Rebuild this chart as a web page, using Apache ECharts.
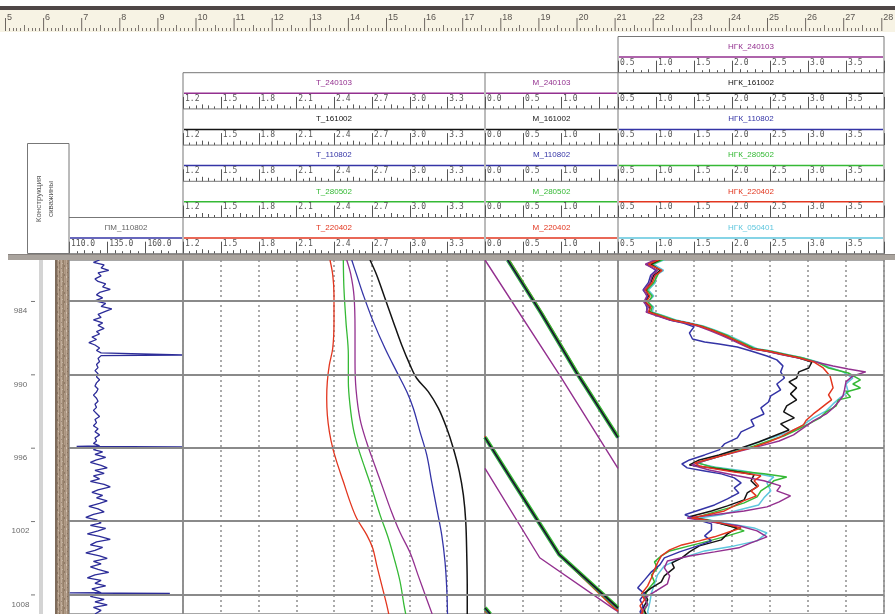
<!DOCTYPE html>
<html>
<head>
<meta charset="utf-8">
<script src="https://cdn.jsdelivr.net/npm/echarts@6/dist/echarts.min.js"></script>
<style>
  html, body { margin: 0; padding: 0; background: #ffffff; }
  #chart { width: 895px; height: 614px; }
</style>
</head>
<body>
<div id="chart"></div>
<script>
// ---------- data ----------
const depthTicks = [984, 990, 996, 1002, 1008];
const rulerMarks = [5, 6, 7, 8, 9, 10, 11, 12, 13, 14, 15, 16, 17, 18, 19, 20, 21, 22, 23, 24, 25, 26, 27, 28];
const runs = ['240103', '161002', '110802', '280502', '220402'];
const ngkRuns = ['240103', '161002', '110802', '280502', '220402', '050401'];
const pmScaleLabels = ['110.0', '135.0', '160.0'];
const tScaleLabels = ['1.2', '1.5', '1.8', '2.1', '2.4', '2.7', '3.0', '3.3'];
const mScaleLabels = ['0.0', '0.5', '1.0'];
const ngkScaleLabels = ['0.5', '1.0', '1.5', '2.0', '2.5', '3.0', '3.5'];
const casingInterval = [975, 1015];

// ПМ_110802: [depth, value]
const pm110802 = [
  [980.65,130],[980.85,126],[981.05,133],[981.3,131],[981.5,136],[981.7,129],[981.95,131],[982.2,127],[982.4,129],[982.6,134],
  [982.85,132],[983.05,137],[983.3,130],[983.5,128],[983.75,132],[984.0,127],[984.2,134],[984.45,131],[984.65,138],[984.9,133],
  [985.1,129],[985.35,131],[985.55,126],[985.8,132],[986.0,129],[986.25,133],[986.5,128],[986.7,130],[986.95,125],[987.15,128],
  [987.4,123],[987.6,127],[987.85,130],[988.05,128],[988.25,131],[988.38,130],[988.42,184],[988.47,131],[988.7,129],[988.95,130],
  [989.2,128],[989.45,129],[989.7,127],[989.95,129],[990.2,128],[990.45,130],[990.7,128],[990.95,127],[991.2,129],[991.45,128],
  [991.7,126],[991.95,128],[992.2,129],[992.45,127],[992.7,128],[992.95,126],[993.2,128],[993.45,130],[993.7,127],[993.95,128],
  [994.2,126],[994.45,129],[994.7,127],[994.95,130],[995.2,127],[995.45,128],[995.65,126],[995.85,130],[995.9,115],[995.94,184],
  [995.98,129],[996.15,126],[996.35,132],[996.55,127],[996.8,134],[997.0,128],[997.2,124],[997.45,131],[997.65,135],[997.85,127],
  [998.1,133],[998.3,126],[998.55,130],[998.75,124],[999.0,133],[999.2,137],[999.45,129],[999.65,125],[999.9,132],[1000.1,128],
  [1000.35,135],[1000.55,130],[1000.8,123],[1001.0,129],[1001.25,133],[1001.45,126],[1001.7,121],[1001.9,128],[1002.15,131],[1002.35,124],
  [1002.6,134],[1002.8,129],[1003.05,122],[1003.25,130],[1003.5,137],[1003.7,128],[1003.95,124],[1004.15,132],[1004.4,127],[1004.6,121],
  [1004.85,130],[1005.05,135],[1005.3,126],[1005.5,131],[1005.75,124],[1005.95,129],[1006.2,136],[1006.4,127],[1006.65,122],[1006.85,131],
  [1007.1,127],[1007.3,134],[1007.55,125],[1007.75,129],[1007.86,131],[1007.88,110.5],[1007.92,176],[1007.96,128],[1008.15,124],[1008.4,133],
  [1008.6,127],[1008.85,135],[1009.05,126],[1009.3,131],[1009.6,127]
];

// T curves: [depth, value]
const t240103 = [[980.65,2.501],[981.81,2.533],[983.59,2.559],[986.31,2.567],[989.04,2.567],[991.22,2.575],[993.67,2.607],[995.58,2.66],[997.49,2.726],[999.39,2.792],[1001.3,2.859],[1002.94,2.925],[1004.58,3.004],[1006.48,3.07],[1008.39,3.137],[1009.6,3.18]];
const t161002 = [[980.65,2.686],[981.87,2.739],[983.78,2.805],[985.69,2.871],[987.6,2.938],[989.23,3.004],[990.32,3.057],[991.41,3.149],[992.77,3.229],[994.41,3.296],[996.04,3.348],[997.95,3.396],[999.86,3.428],[1002.04,3.447],[1004.76,3.455],[1007.49,3.459],[1009.6,3.459]];
const t110802 = [[980.65,2.541],[981.87,2.58],[983.51,2.633],[985.69,2.712],[987.87,2.805],[989.78,2.898],[991.41,2.978],[992.77,3.03],[994.68,3.083],[996.59,3.137],[998.77,3.176],[1000.95,3.216],[1003.13,3.256],[1005.31,3.282],[1007.49,3.296],[1009.6,3.302]];
const t280502 = [[980.65,2.474],[982.96,2.479],[985.69,2.495],[988.41,2.514],[990.6,2.514],[992.5,2.527],[994.41,2.553],[996.04,2.593],[997.68,2.646],[999.31,2.7],[1001.49,2.766],[1003.4,2.832],[1005.31,2.885],[1006.95,2.925],[1008.85,2.956],[1009.6,2.97]];
const t220402 = [[980.65,2.368],[981.87,2.39],[983.51,2.4],[985.69,2.4],[987.87,2.39],[989.23,2.363],[990.6,2.347],[991.95,2.342],[993.32,2.347],[994.68,2.363],[996.04,2.39],[997.14,2.421],[998.77,2.474],[1000.41,2.527],[1001.77,2.58],[1003.13,2.66],[1004.22,2.708],[1005.58,2.739],[1007.22,2.779],[1008.85,2.819],[1009.6,2.835]];

// M curves, wrapped display: each inner list is one pass across the track
const m240103 = [
  [[980.65,0.0],[990.05,0.98],[997.7,1.75]],
  [[997.7,0.0],[1005.0,0.72],[1009.1,1.675],[1009.4,1.75]]
];
const m161002 = [
  [[980.65,0.30],[985.0,0.74],[989.9,1.21],[995.15,1.75]],
  [[995.15,0.0],[998.8,0.37],[1004.76,0.98],[1009.1,1.75]],
  [[1009.1,0.0],[1009.6,0.07]]
];
const m110802 = [
  [[980.65,0.295],[985.0,0.735],[989.9,1.205],[995.2,1.75]],
  [[995.2,0.0],[998.8,0.365],[1004.76,0.975],[1009.15,1.75]],
  [[1009.15,0.0],[1009.6,0.06]]
];
const m280502 = [
  [[980.65,0.30],[985.0,0.74],[989.9,1.21],[995.15,1.75]],
  [[995.15,0.0],[998.8,0.37],[1004.76,0.98],[1009.1,1.75]],
  [[1009.1,0.0],[1009.6,0.07]]
];
const m220402 = [
  [[980.65,0.318],[985.0,0.755],[989.9,1.225],[995.05,1.75]],
  [[995.05,0.0],[998.8,0.375],[1004.76,0.975],[1009.1,1.70],[1009.35,1.75]],
  [[1009.35,0.0],[1009.6,0.04]]
];

// НГК curves: [depth, value]
const ngk240103 = [[980.6,1.0],[981.0,0.86],[981.5,1.02],[981.9,0.95],[982.5,0.92],[983.1,0.84],[983.6,0.88],[984.1,0.84],[984.5,0.9],[984.9,0.87],[985.2,1.0],[985.55,1.18],[985.8,1.38],[986.05,1.55],[986.4,1.7],[986.8,1.86],[987.2,2.0],[987.6,2.14],[987.9,2.24],[988.1,2.44],[988.4,2.66],[988.65,2.86],[989.0,3.1],
  [989.31,3.33],[989.56,3.53],[989.8,3.76],[990.13,3.59],[990.62,3.5],[991.28,3.48],[991.77,3.46],[992.26,3.4],[992.75,3.33],[993.24,3.24],[993.81,3.07],[994.38,2.94],[994.95,2.81],[995.45,2.62],[995.85,2.38],[996.26,2.12],[996.67,1.86],[997.08,1.64],[997.41,1.47],[997.82,1.7],[998.3,2.07],[998.71,2.42],[999.12,2.64],[999.53,2.59],[999.94,2.77],[1000.43,2.62],[1000.84,2.46],[1001.17,2.16],[1001.49,1.77],[1001.74,1.41],[1002.07,1.73],[1002.39,2.09],[1002.8,2.33],[1003.29,2.46],[1003.78,2.25],[1004.19,2.09],[1004.52,1.77],[1004.85,1.44],[1005.26,1.15],[1005.83,1.11],[1006.48,1.18],[1007.14,1.15],[1007.79,0.98],[1008.28,0.85],[1008.85,0.89],[1009.42,0.81],[1009.6,0.83]];
const ngk161002 = [[980.6,1.06],[981.0,0.93],[981.5,1.06],[981.9,0.97],[982.5,0.93],[983.1,0.87],[983.6,0.9],[984.1,0.86],[984.5,0.92],[984.9,0.91],[985.2,1.03],[985.55,1.2],[985.8,1.41],[986.05,1.57],[986.4,1.73],[986.8,1.89],[987.2,2.03],[987.6,2.16],[987.9,2.27],[988.1,2.45],[988.4,2.68],[988.65,2.87],[989.0,3.05],
  [989.48,3.01],[989.8,2.88],[990.3,2.85],[990.62,2.75],[991.11,2.85],[991.6,2.77],[992.09,2.85],[992.58,2.72],[993.07,2.68],[993.56,2.82],[994.05,2.64],[994.55,2.75],[995.04,2.55],[995.53,2.35],[996.02,2.12],[996.59,1.83],[997.0,1.57],[997.41,1.44],[997.65,1.73],[997.98,2.09],[998.22,2.29],[998.71,2.25],[999.2,2.33],[999.7,2.2],[1000.27,2.16],[1000.76,1.94],[1001.17,1.73],[1001.65,1.44],[1002.07,1.77],[1002.56,2.07],[1003.05,1.94],[1003.54,1.86],[1004.03,1.57],[1004.52,1.44],[1005.01,1.34],[1005.42,1.21],[1005.83,1.24],[1006.48,1.11],[1006.97,1.07],[1007.46,0.94],[1007.87,0.85],[1008.44,0.89],[1009.1,0.83],[1009.6,0.87]];
const ngk110802 = [[980.6,1.02],[981.0,0.88],[981.5,1.0],[981.9,0.93],[982.5,0.9],[983.1,0.83],[983.6,0.89],[984.1,0.85],[984.5,0.88],[984.9,0.88],[985.2,1.02],[985.55,1.18],[985.8,1.36],
  [986.12,1.5],[986.62,1.44],[987.11,1.48],[987.35,1.64],[987.52,1.83],[987.76,2.07],[988.09,2.25],[988.5,2.46],[988.82,2.59],[989.31,2.67],[989.8,2.64],[990.3,2.69],[990.79,2.59],[991.28,2.64],[991.77,2.51],[992.26,2.48],[992.75,2.38],[993.24,2.42],[993.73,2.25],[994.22,2.29],[994.71,2.12],[995.2,2.07],[995.69,1.9],[996.18,1.83],[996.59,1.64],[997.0,1.44],[997.33,1.34],[997.65,1.41],[997.9,1.64],[998.14,1.86],[998.47,2.03],[998.88,2.12],[999.29,2.03],[999.7,2.09],[1000.19,1.94],[1000.68,1.77],[1001.09,1.57],[1001.49,1.38],[1001.9,1.55],[1002.23,1.73],[1002.72,1.73],[1003.21,1.64],[1003.62,1.73],[1004.11,1.51],[1004.52,1.31],[1005.01,1.11],[1005.58,1.05],[1006.15,0.94],[1006.81,0.85],[1007.46,0.76],[1007.95,0.85],[1008.44,0.79],[1008.93,0.83],[1009.42,0.79],[1009.6,0.81]];
const ngk280502 = [[980.6,1.1],[981.0,0.95],[981.5,1.05],[981.9,1.02],[982.5,0.97],[983.1,0.88],[983.6,0.95],[984.1,0.9],[984.5,0.95],[984.9,0.93],[985.2,1.08],[985.55,1.24],[985.8,1.4],[986.05,1.6],[986.4,1.76],[986.8,1.93],[987.2,2.06],[987.6,2.2],[987.9,2.3],[988.1,2.5],[988.4,2.72],[988.65,2.92],[989.0,3.12],
  [989.48,3.27],[989.89,3.53],[990.46,3.69],[990.79,3.59],[991.11,3.69],[991.44,3.5],[991.85,3.56],[992.09,3.4],[992.58,3.37],[993.07,3.24],[993.56,3.16],[994.05,3.01],[994.55,2.85],[995.04,2.68],[995.45,2.48],[995.85,2.29],[996.34,2.03],[996.83,1.77],[997.24,1.55],[997.57,1.73],[997.9,2.07],[998.14,2.42],[998.39,2.72],[998.71,2.55],[999.12,2.48],[999.53,2.38],[1000.02,2.33],[1000.51,2.16],[1000.92,1.96],[1001.33,1.73],[1001.74,1.51],[1001.98,1.73],[1002.39,1.96],[1002.8,2.16],[1003.21,1.94],[1003.62,1.7],[1004.03,1.44],[1004.44,1.18],[1004.85,1.07],[1005.34,0.98],[1005.83,1.02],[1006.4,0.94],[1006.97,0.98],[1007.63,0.89],[1008.2,0.85],[1008.77,0.89],[1009.42,0.84],[1009.6,0.86]];
const ngk220402 = [[980.6,1.05],[981.0,0.9],[981.5,1.08],[981.9,0.99],[982.5,0.95],[983.1,0.86],[983.6,0.92],[984.1,0.87],[984.5,0.93],[984.9,0.9],[985.2,1.05],[985.55,1.21],[985.8,1.42],[986.05,1.58],[986.4,1.74],[986.8,1.9],[987.2,2.04],[987.6,2.17],[987.9,2.26],[988.1,2.47],[988.4,2.69],[988.65,2.88],[989.0,3.08],
  [989.48,3.2],[990.13,3.29],[991.11,3.33],[991.68,3.27],[992.09,3.31],[992.42,3.24],[992.91,3.14],[993.24,3.07],[993.73,2.98],[994.14,2.94],[994.55,2.81],[995.12,2.64],[995.53,2.48],[995.94,2.29],[996.26,2.09],[996.59,1.9],[996.92,1.7],[997.24,1.51],[997.49,1.57],[997.73,1.77],[997.98,2.03],[998.14,2.22],[998.3,2.38],[998.71,2.29],[999.12,2.35],[999.53,2.25],[999.94,2.32],[1000.35,2.15],[1000.76,2.03],[1001.17,1.9],[1001.49,1.68],[1001.74,1.47],[1001.9,1.64],[1002.23,1.9],[1002.56,2.12],[1002.89,1.96],[1003.29,1.77],[1003.62,1.57],[1003.95,1.34],[1004.36,1.18],[1004.85,1.07],[1005.42,1.02],[1005.99,0.98],[1006.64,0.94],[1007.3,0.89],[1007.95,0.81],[1008.44,0.85],[1008.93,0.79],[1009.42,0.83],[1009.6,0.8]];
const ngk050401 = [[980.6,1.12],[981.0,0.97],[981.5,1.1],[981.9,1.0],[982.5,0.99],[983.1,0.9],[983.6,0.97],[984.1,0.89],[984.5,0.97],[984.9,0.95],[985.2,1.1],[985.55,1.26],[985.8,1.45],[986.05,1.62],[986.4,1.78],[986.8,1.95],[987.2,2.09],[987.6,2.22],[987.9,2.33],[988.1,2.52],[988.4,2.74],[988.65,2.93],[989.0,3.14],
  [989.4,3.27],[989.8,3.46],[990.3,3.59],[990.79,3.5],[991.44,3.53],[991.93,3.42],[992.42,3.33],[992.99,3.24],[993.56,3.07],[994.3,2.9],[994.79,2.72],[995.2,2.51],[995.77,2.25],[996.34,1.99],[996.83,1.73],[997.24,1.53],[997.57,1.77],[997.9,2.16],[998.39,2.55],[998.88,2.46],[999.53,2.51],[1000.1,2.42],[1000.68,2.35],[1001.09,2.09],[1001.49,1.86],[1001.74,1.57],[1002.15,1.9],[1002.56,2.29],[1002.97,2.46],[1003.62,2.33],[1004.03,2.03],[1004.44,1.64],[1005.01,1.34],[1005.66,1.11],[1006.4,1.02],[1007.14,0.98],[1007.88,0.94],[1008.61,0.92],[1009.42,0.89],[1009.6,0.9]];

// ---------- styling / layout ----------
const runColors = {
  '240103': '#93308f', '161002': '#141414', '110802': '#3434a6',
  '280502': '#35b935', '220402': '#e2361f', '050401': '#5ec6de'
};
const depthRange = [980.65, 1009.6];
const PLOT_TOP = 260;
const tracks = {
  pm:  { left: 69,  right: 183, min: 110, max: 184.6, step: 25,  minor: 5 },
  t:   { left: 183, right: 485, min: 1.2, max: 3.6,   step: 0.3, minor: 6 },
  m:   { left: 485, right: 618, min: 0,   max: 1.75,  step: 0.5, minor: 5 },
  ngk: { left: 618, right: 884, min: 0.5, max: 4.0,   step: 0.5, minor: 5 }
};
const ROW_H = 36.2;
const NGK_TOP = 36.5;
const TM_TOP = NGK_TOP + ROW_H;
const FRAME = '#777777';
const MONO = '8px "DejaVu Sans Mono"';
const SANS = '8px "Liberation Sans"';

// ---------- header graphics ----------
const G = [];
function gLine(x1, y1, x2, y2, stroke, w) {
  G.push({ type: 'line', silent: true, shape: { x1, y1, x2, y2 }, style: { stroke, lineWidth: w } });
}
function gRect(x, y, width, height, style) {
  G.push({ type: 'rect', silent: true, shape: { x, y, width, height }, style });
}
function gText(x, y, str, extra) {
  G.push({ type: 'text', silent: true, x, y, style: Object.assign({
    text: str, font: MONO, fill: '#555', align: 'left', verticalAlign: 'middle',
    textAlign: 'left', textVerticalAlign: 'middle' }, extra || {}) });
}

function headerRow(tr, top, title, titleColor, lineColor, labels) {
  const span = tr.max - tr.min, w = tr.right - tr.left;
  const px = v => tr.left + (v - tr.min) / span * w;
  const bottom = top + ROW_H;
  gText((tr.left + tr.right) / 2, top + 10, title, { font: SANS, fill: titleColor, align: 'center', textAlign: 'center' });
  gLine(tr.left + 1, top + 20.5, tr.right - 1, top + 20.5, lineColor, 1.5);
  const sub = tr.step / tr.minor;
  for (let k = 0; tr.min + k * sub <= tr.max + 1e-9; k++) {
    const x = Math.round(px(tr.min + k * sub)) + 0.5;
    let h = 2.5;
    if (k % tr.minor === 0) h = 12;
    else if (tr.minor % 2 === 0 && k % tr.minor === tr.minor / 2) h = 4.5;
    else if (k % 2 === 0) h = 3.5;
    gLine(x, bottom - h, x, bottom, '#555', 1);
  }
  labels.forEach((lab, i) => gText(px(tr.min + i * tr.step) + 2, top + 26, lab));
  gLine(tr.left, bottom, tr.right, bottom, FRAME, 1);
}

// ruler strip
gRect(0, 6, 895, 4, { fill: '#4e4646' });
gRect(0, 10, 895, 22, { fill: '#f7f3e4' });
rulerMarks.forEach((n, i) => {
  const x = 5 + i * 38.1;
  gLine(x + 0.5, 18, x + 0.5, 31, '#6d6660', 1);
  gText(x + 2, 18, String(n), { font: '9px "Liberation Sans"', fill: '#5a5550' });
  if (i < rulerMarks.length - 1) {
    for (let j = 1; j < 10; j++) {
      const xx = Math.round(x + j * 3.81) + 0.5;
      gLine(xx, j === 5 ? 25 : 28, xx, 31, '#7d7670', 1);
    }
  }
});

// header boxes
gLine(tracks.ngk.left, NGK_TOP, tracks.ngk.right, NGK_TOP, FRAME, 1);
gLine(tracks.ngk.left, NGK_TOP, tracks.ngk.left, NGK_TOP + 6 * ROW_H, FRAME, 1);
gLine(tracks.ngk.right, NGK_TOP, tracks.ngk.right, NGK_TOP + 6 * ROW_H, FRAME, 1);
gLine(tracks.t.left, TM_TOP, tracks.m.right, TM_TOP, FRAME, 1);
gLine(tracks.t.left, TM_TOP, tracks.t.left, TM_TOP + 5 * ROW_H, FRAME, 1);
gLine(tracks.m.left, TM_TOP, tracks.m.left, TM_TOP + 5 * ROW_H, FRAME, 1);
const PM_TOP = TM_TOP + 4 * ROW_H;
gLine(tracks.pm.left, PM_TOP, tracks.pm.right, PM_TOP, FRAME, 1);

ngkRuns.forEach((r, i) => headerRow(tracks.ngk, NGK_TOP + i * ROW_H, 'НГК_' + r, runColors[r], runColors[r], ngkScaleLabels));
runs.forEach((r, i) => {
  headerRow(tracks.t, TM_TOP + i * ROW_H, 'T_' + r, runColors[r], runColors[r], tScaleLabels);
  headerRow(tracks.m, TM_TOP + i * ROW_H, 'M_' + r, runColors[r], runColors[r], mScaleLabels);
});
headerRow(tracks.pm, PM_TOP, 'ПМ_110802', '#666', runColors['110802'], pmScaleLabels);

// well construction header
gRect(27.5, 143.5, 41.5, 110, { fill: 'none', stroke: FRAME, lineWidth: 1 });
G.push({ type: 'text', silent: true, x: 39, y: 199, rotation: Math.PI / 2,
  style: { text: 'Конструкция', font: SANS, fill: '#555', align: 'center', verticalAlign: 'middle', textAlign: 'center', textVerticalAlign: 'middle' } });
G.push({ type: 'text', silent: true, x: 51, y: 199, rotation: Math.PI / 2,
  style: { text: 'скважины', font: SANS, fill: '#555', align: 'center', verticalAlign: 'middle', textAlign: 'center', textVerticalAlign: 'middle' } });

// band between header and log body
gRect(8, 254, 887, 6, { fill: '#a9a39d' });
gLine(8, 254.5, 895, 254.5, '#8a8480', 1);

// depth column guide line
gRect(39, PLOT_TOP, 4, 614 - PLOT_TOP, { fill: '#d4d4d4' });

// ---------- casing texture ----------
function casingPattern() {
  const c = document.createElement('canvas');
  c.width = 14; c.height = 9;
  const g = c.getContext('2d');
  const stripes = ['#7e6b5b', '#a08a76', '#b7a38f', '#9b8571', '#ae9884', '#c0ad99', '#a38d79',
                   '#958069', '#b29c88', '#a9937f', '#bca894', '#9e8874', '#b4a08c', '#8d7866'];
  stripes.forEach((col, i) => { g.fillStyle = col; g.fillRect(i, 0, 1, 9); });
  g.fillStyle = 'rgba(80,62,48,0.35)';
  [[3, 1, 2], [8, 4, 2], [5, 7, 1], [11, 2, 1], [1, 5, 2], [12, 7, 1]].forEach(p => g.fillRect(p[0], p[1], 1, p[2]));
  g.fillStyle = 'rgba(235,225,210,0.45)';
  [[6, 2, 1], [10, 6, 2], [2, 8, 1]].forEach(p => g.fillRect(p[0], p[1], 1, p[2]));
  return c;
}
const casingImg = casingPattern();

// ---------- axes / grids ----------
const gridDefs = [
  { left: 55, width: 14 },                                   // 0 casing
  { left: 8, width: 47 },                                    // 1 depth labels
  { left: tracks.pm.left, width: tracks.pm.right - tracks.pm.left, border: true },
  { left: tracks.t.left, width: tracks.t.right - tracks.t.left, border: true },
  { left: tracks.m.left, width: tracks.m.right - tracks.m.left, border: true },
  { left: tracks.ngk.left, width: tracks.ngk.right - tracks.ngk.left, border: true }
];
const grid = gridDefs.map(d => ({
  left: d.left, width: d.width, top: PLOT_TOP, bottom: 0,
  show: !!d.border, borderColor: '#8a8a8a', borderWidth: d.border ? 1.5 : 0, backgroundColor: 'transparent'
}));

const dotted = { show: true, lineStyle: { color: '#8e8e8e', width: 1.5, type: [2, 3] } };
function xAx(gi, tr, split) {
  return {
    gridIndex: gi, type: 'value', min: tr ? tr.min : 0, max: tr ? tr.max : 1,
    interval: tr ? tr.step : 1,
    axisLine: { show: false }, axisTick: { show: false }, axisLabel: { show: false },
    splitLine: split ? dotted : { show: false }
  };
}
const xAxis = [xAx(0), xAx(1), xAx(2, tracks.pm, false), xAx(3, tracks.t, true), xAx(4, tracks.m, true), xAx(5, tracks.ngk, true)];
const yAxis = [0, 1, 2, 3, 4, 5].map(gi => ({
  gridIndex: gi, type: 'value', inverse: true, min: depthRange[0], max: depthRange[1],
  axisLine: { show: false }, axisTick: { show: false }, axisLabel: { show: false }, splitLine: { show: false }
}));

const depthLines = {
  silent: true, symbol: ['none', 'none'], label: { show: false },
  lineStyle: { color: '#8a8a8a', width: 2, type: 'solid' },
  emphasis: { disabled: true },
  data: depthTicks.map(d => ({ yAxis: d }))
};

function curve(gi, name, pts, color, width, z) {
  return {
    type: 'line', name, xAxisIndex: gi, yAxisIndex: gi,
    data: pts.map(p => [p[1], p[0]]),
    showSymbol: false, symbol: 'none', smooth: false, z: z || 2,
    lineStyle: { color, width }, emphasis: { disabled: true }
  };
}
function smoothCurve(gi, name, pts, color, width) {
  const s = curve(gi, name, pts, color, width);
  s.smooth = 0.35;
  return s;
}
function wrapped(gi, name, passes, color, width, z) {
  const flat = [];
  passes.forEach((seg, i) => {
    if (i > 0) flat.push(['-', '-']);
    seg.forEach(p => flat.push([p[1], p[0]]));
  });
  return {
    type: 'line', name, xAxisIndex: gi, yAxisIndex: gi, data: flat, connectNulls: false,
    showSymbol: false, symbol: 'none', z: z || 2, lineStyle: { color, width }, emphasis: { disabled: true }
  };
}

const series = [];
series.push({
  type: 'custom', name: 'casing', xAxisIndex: 0, yAxisIndex: 0, clip: true,
  data: [[0, casingInterval[0], casingInterval[1]]],
  renderItem: (params, api) => {
    const p0 = api.coord([0, api.value(1)]);
    const p1 = api.coord([1, api.value(2)]);
    return { type: 'rect', shape: { x: p0[0], y: p0[1], width: p1[0] - p0[0], height: p1[1] - p0[1] },
      style: { fill: { image: casingImg, repeat: 'repeat' }, stroke: '#6f5e50', lineWidth: 1 } };
  }
});
series.push({
  type: 'custom', name: 'depth', xAxisIndex: 1, yAxisIndex: 1,
  data: depthTicks.map(d => [0, d]),
  renderItem: (params, api) => {
    const y = api.coord([0, api.value(1)])[1];
    return { type: 'group', children: [
      { type: 'line', shape: { x1: 31, y1: y + 0.5, x2: 35, y2: y + 0.5 }, style: { stroke: '#777', lineWidth: 1 } },
      { type: 'text', style: { text: String(api.value(1)), x: 20.5, y: y + 10, font: '8px "Liberation Sans"', fill: '#6a6a6a',
        align: 'center', verticalAlign: 'middle', textAlign: 'center', textVerticalAlign: 'middle' } }
    ] };
  }
});

const pm = curve(2, 'ПМ_110802', pm110802, '#2c2c98', 1.3);
pm.markLine = depthLines;
series.push(pm);

const tSeries = [
  smoothCurve(3, 'T_220402', t220402, runColors['220402'], 1.3),
  smoothCurve(3, 'T_280502', t280502, runColors['280502'], 1.3),
  smoothCurve(3, 'T_240103', t240103, runColors['240103'], 1.3),
  smoothCurve(3, 'T_110802', t110802, runColors['110802'], 1.3),
  smoothCurve(3, 'T_161002', t161002, runColors['161002'], 1.5)
];
tSeries[0].markLine = depthLines;
series.push(...tSeries);

const mSeries = [
  wrapped(4, 'M_240103', m240103, runColors['240103'], 1.4),
  wrapped(4, 'M_220402', m220402, runColors['220402'], 1.6),
  wrapped(4, 'M_280502', m280502, runColors['280502'], 4),
  wrapped(4, 'M_110802', m110802, runColors['110802'], 1.5),
  wrapped(4, 'M_161002', m161002, '#1a1a1a', 1.4, 3)
];
mSeries[0].markLine = depthLines;
series.push(...mSeries);

const ngkSeries = [
  curve(5, 'НГК_050401', ngk050401, runColors['050401'], 1.5),
  curve(5, 'НГК_280502', ngk280502, runColors['280502'], 1.5),
  curve(5, 'НГК_161002', ngk161002, runColors['161002'], 1.5),
  curve(5, 'НГК_110802', ngk110802, runColors['110802'], 1.5),
  curve(5, 'НГК_240103', ngk240103, runColors['240103'], 1.5),
  curve(5, 'НГК_220402', ngk220402, runColors['220402'], 1.5)
];
ngkSeries[0].markLine = depthLines;
series.push(...ngkSeries);

const chart = echarts.init(document.getElementById('chart'), null, { renderer: 'canvas' });
chart.setOption({
  animation: false,
  backgroundColor: '#ffffff',
  grid, xAxis, yAxis, series,
  graphic: { elements: G.map(e => Object.assign({ z: 100 }, e)) }
});
</script>
</body>
</html>
